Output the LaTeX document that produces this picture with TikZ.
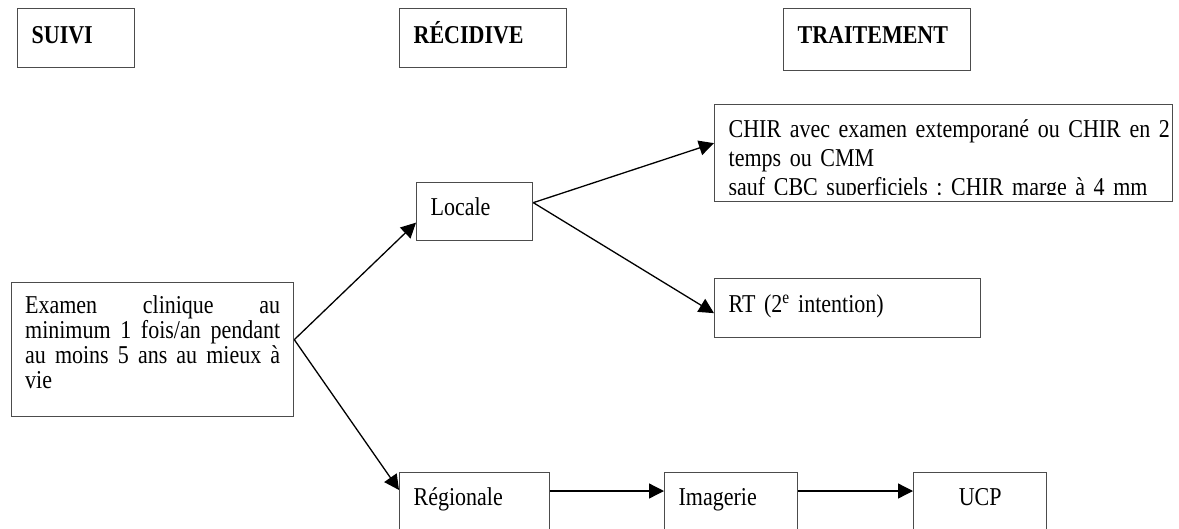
\documentclass[tikz,border=0pt]{standalone}
\usepackage{fontspec}
\usepackage{xcolor}
\newfontfamily\diagfont[FakeStretch=0.856]{Liberation Serif}
\newcommand\chirfont{\diagfont\fontsize{25.7}{29}\selectfont\spaceskip=4pt plus 1pt\relax}
\usetikzlibrary{arrows.meta}
\frenchspacing
\definecolor{boxgray}{gray}{0.3}
\tikzstyle{box}=[
        draw = boxgray,
        line width = 1.3pt,
        anchor = north west,
        inner xsep = 14pt,
        inner ysep = 0pt,
        align = left,
        font = \diagfont\fontsize{25.7}{25}\selectfont
    ]
\tikzstyle{title box}=[
    box,
    font = \diagfont\bfseries\fontsize{25.7}{25}\selectfont
]
\tikzstyle{link}=[
    line width = 1.3pt,
    -{Triangle[length=15pt, width=15pt]}
]

\begin{document}
\begin{tikzpicture}[x=1pt, y=-1pt]
        \useasboundingbox (0,0) rectangle (1179,528);

        \node[title box, text width=89pt, text height=35pt, text depth=24pt] (suivi) at (17,8) {SUIVI};
        \node[title box, text width=139pt, text height=35pt, text depth=24pt] (recid) at (399,8) {RÉCIDIVE};
        \node[title box, text width=159pt, text height=35pt, text depth=27pt] (trait) at (783,8) {TRAITEMENT};

        \node[box, inner xsep=13.5pt, text width=255pt, text height=31pt, text depth=103pt] (exam) at (11,282)
            {Examen\hfill clinique\hfill au\\ minimum\hfill 1\hfill fois/an\hfill pendant\\ au\hfill moins\hfill 5\hfill ans\hfill au\hfill mieux\hfill à\\ vie};
        \node[box, text width=88pt, text height=33pt, text depth=25pt] (loc) at (416,182) {Locale};
        \node[box, text width=122pt, text height=33pt, text depth=30pt] (reg) at (399,472) {Régionale};
        \node[box, text width=105pt, text height=33pt, text depth=30pt] (img) at (664,472) {Imagerie};
        \node[box, text width=105pt, text height=33pt, text depth=30pt, align=center] (ucp) at (913,472) {UCP};
        \node[box, text width=238pt, text height=34pt, text depth=25pt] (rt) at (714,278) {RT (2\textsuperscript{e} intention)};
        \node[box, text width=430pt, text height=33pt, text depth=64pt, font=\chirfont] (chir) at (714,104)
            {\mbox{CHIR avec examen extemporané ou CHIR en 2}\\ temps ou CMM\\ \mbox{sauf CBC superficiels : CHIR marge à 4 mm}};
        \fill[white] ([xshift=1pt, yshift=1pt]chir.south west) rectangle ([xshift=-1pt, yshift=7pt]chir.south east);

        \draw[link] ([yshift=10pt]exam.east) -- ([yshift=-11pt]loc.west);
        \draw[link] ([yshift=10pt]exam.east) -- ([yshift=-18pt]reg.north west);
        \draw[link] ([yshift=9pt]loc.east) -- ([yshift=10pt]chir.west);
        \draw[link] ([yshift=9pt]loc.east) -- ([yshift=-5pt]rt.west);
        \draw[link] ([yshift=-19pt]reg.north east) -- ([yshift=-19pt]img.north west);
        \draw[link] ([yshift=-19pt]img.north east) -- ([yshift=-19pt]ucp.north west);

    \end{tikzpicture}
\end{document}
